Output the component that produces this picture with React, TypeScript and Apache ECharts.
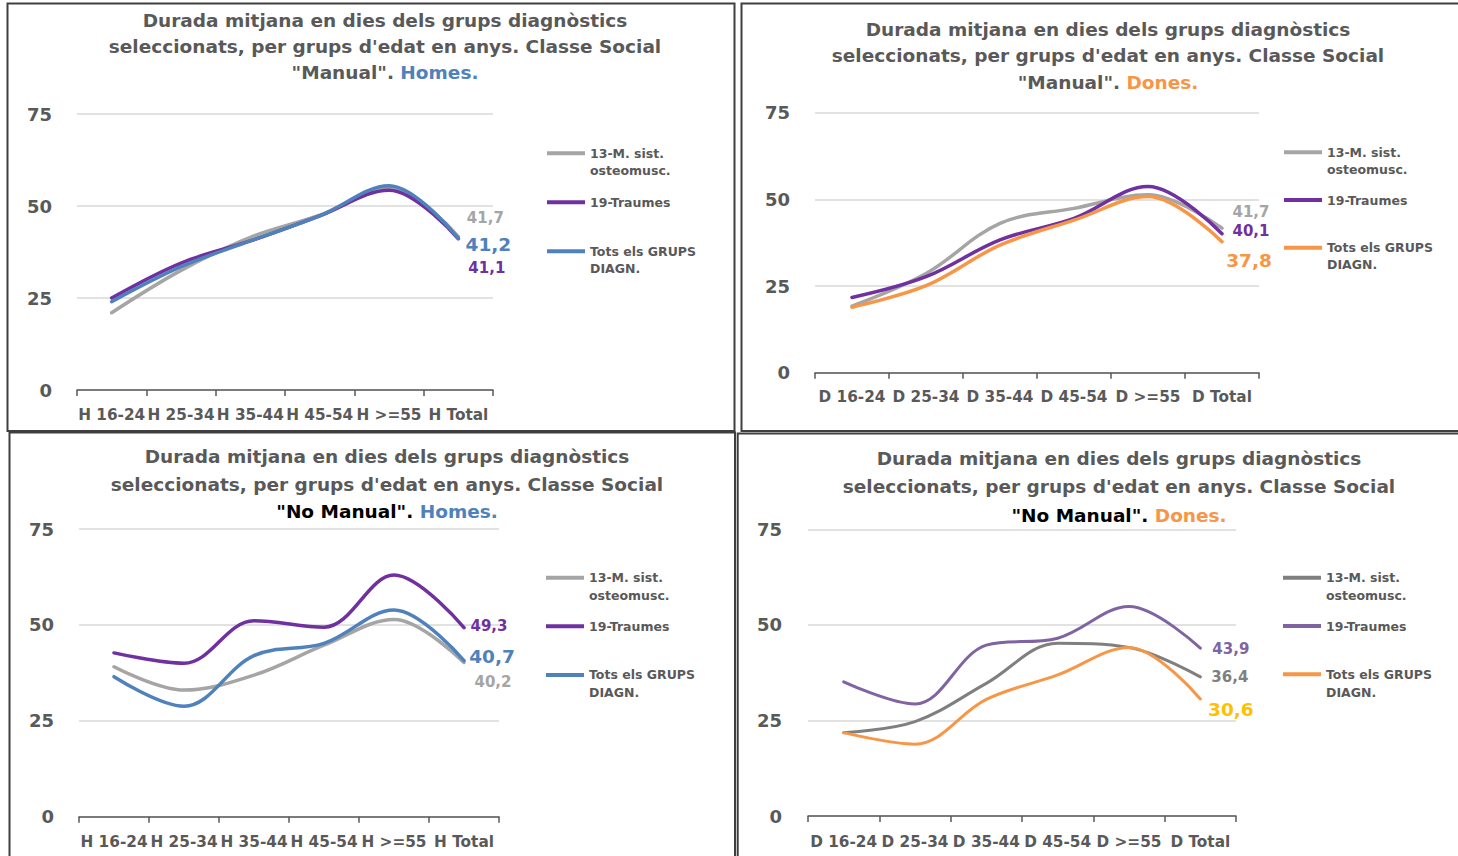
import React, { useEffect, useRef } from "react";
import * as echarts from "echarts";

// ---------- data ----------
const SERIES_NAMES = ["13-M. sist. osteomusc.", "19-Traumes", "Tots els GRUPS DIAGN."];
const LEGEND_LABELS = ["13-M. sist.\nosteomusc.", "19-Traumes", "Tots els GRUPS\nDIAGN."];

const catsHomes = ["H 16-24", "H 25-34", "H 35-44", "H 45-54", "H >=55", "H Total"];
const catsDones = ["D 16-24", "D 25-34", "D 35-44", "D 45-54", "D >=55", "D Total"];

// Manual - Homes
const manHomesOsteo = [21.0, 32.5, 41.5, 47.5, 55.0, 41.7];
const manHomesTraumes = [25.0, 34.5, 40.5, 47.3, 54.3, 41.1];
const manHomesTots = [24.0, 33.5, 40.5, 47.3, 55.5, 41.2];

// Manual - Dones
const manDonesOsteo = [19.2, 28.6, 43.1, 47.4, 51.3, 41.7];
const manDonesTraumes = [21.7, 27.7, 38.3, 44.5, 53.7, 40.1];
const manDonesTots = [18.9, 25.1, 36.8, 44.0, 50.8, 37.8];

// No Manual - Homes
const noManHomesOsteo = [39.1, 33.0, 36.9, 44.7, 51.4, 40.2];
const noManHomesTraumes = [42.7, 40.0, 51.1, 49.4, 63.0, 49.3];
const noManHomesTots = [36.5, 28.8, 42.0, 45.2, 53.9, 40.7];

// No Manual - Dones
const noManDonesOsteo = [21.8, 24.7, 34.7, 45.2, 44.1, 36.4];
const noManDonesTraumes = [35.1, 29.3, 44.7, 46.5, 54.8, 43.9];
const noManDonesTots = [21.8, 18.8, 30.5, 36.9, 44.1, 30.6];

const Y_MIN = 0;
const Y_MAX = 75;
const Y_STEP = 25;

// ---------- styles / layout ----------
const FONT = '"DejaVu Sans", sans-serif';
const GREY_TEXT = "#595959";

type Panel = {
  cats: string[];
  values: number[][];
  colors: string[];
  labelColors: string[];
  labelSizes: number[];
  labelOffsets: number[][];
  lineWidth: number;
  grid: number[]; // left, top, width, height
  xMargin: number;
  yMargin: number;
  title: { x: number; top: number; lh: number; lead: string; leadStyle: string; sex: string; sexStyle: string };
  legend: { left: number; top: number; lh: number; gap: number };
};

const panels: Panel[] = [
  {
    cats: catsHomes,
    values: [manHomesOsteo, manHomesTraumes, manHomesTots],
    colors: ["#A5A5A5", "#7030A0", "#4F81BD"],
    labelColors: ["#A5A5A5", "#7030A0", "#4F81BD"],
    labelSizes: [15, 15, 18.5],
    labelOffsets: [[27, -19], [28.5, 29.5], [30, 6]],
    lineWidth: 3.5,
    grid: [77, 114, 416, 276],
    xMargin: 17,
    yMargin: 25,
    title: { x: 385, top: 7, lh: 26, lead: '"Manual". ', leadStyle: "g", sex: "Homes.", sexStyle: "b" },
    legend: { left: 547, top: 127.8, lh: 17, gap: 15 },
  },
  {
    cats: catsDones,
    values: [manDonesOsteo, manDonesTraumes, manDonesTots],
    colors: ["#A5A5A5", "#7030A0", "#F79646"],
    labelColors: ["#A5A5A5", "#7030A0", "#F79646"],
    labelSizes: [15, 15, 18.5],
    labelOffsets: [[29, -16.4], [29, -2.7], [27, 19]],
    lineWidth: 3.5,
    grid: [815, 112.7, 444, 260],
    xMargin: 17,
    yMargin: 25,
    title: { x: 1108, top: 16, lh: 26.5, lead: '"Manual". ', leadStyle: "g", sex: "Dones.", sexStyle: "o" },
    legend: { left: 1284, top: 126.8, lh: 17, gap: 13.7 },
  },
  {
    cats: catsHomes,
    values: [noManHomesOsteo, noManHomesTraumes, noManHomesTots],
    colors: ["#A5A5A5", "#7030A0", "#4F81BD"],
    labelColors: ["#A5A5A5", "#7030A0", "#4F81BD"],
    labelSizes: [15, 15, 18.5],
    labelOffsets: [[29, 20], [25, -2], [28, -4]],
    lineWidth: 3.5,
    grid: [79, 529, 420, 287.7],
    xMargin: 18,
    yMargin: 25,
    title: { x: 387, top: 443, lh: 27.5, lead: '"No Manual". ', leadStyle: "k", sex: "Homes.", sexStyle: "b" },
    legend: { left: 546, top: 550.7, lh: 18, gap: 12.6 },
  },
  {
    cats: catsDones,
    values: [noManDonesOsteo, noManDonesTraumes, noManDonesTots],
    colors: ["#7F7F7F", "#8064A2", "#F79646"],
    labelColors: ["#7F7F7F", "#8064A2", "#FFC000"],
    labelSizes: [15, 15, 18.5],
    labelOffsets: [[29.5, 0], [30.5, 1], [30.5, 10]],
    lineWidth: 3,
    grid: [808, 529.3, 428, 286.7],
    xMargin: 18,
    yMargin: 26,
    title: { x: 1119, top: 444, lh: 28.5, lead: '"No Manual". ', leadStyle: "k", sex: "Dones.", sexStyle: "o" },
    legend: { left: 1283, top: 550.7, lh: 18, gap: 12.3 },
  },
];

const borders = [
  { x: 7.5, y: 3.5, w: 727, h: 427.5 },
  { x: 741.5, y: 3.5, w: 730, h: 427.5 },
  { x: 9.5, y: 432.5, w: 725.5, h: 440 },
  { x: 737.7, y: 433.5, w: 740, h: 440 },
];

const fmt = (v: number) => v.toFixed(1).replace(".", ",");

function buildOption() {
  const option: any = {
    animation: false,
    backgroundColor: "#ffffff",
    title: [],
    legend: [],
    grid: [],
    xAxis: [],
    yAxis: [],
    series: [],
    graphic: [],
  };

  panels.forEach((p, pi) => {
    const t = p.title;
    const base = { fontFamily: FONT, fontWeight: "bold", fontSize: 18.5, lineHeight: t.lh };
    option.title.push({
      left: t.x,
      top: t.top,
      textAlign: "center",
      padding: 0,
      text:
        "Durada mitjana en dies dels grups diagnòstics\nseleccionats, per grups d'edat en anys. Classe Social\n" +
        `{${t.leadStyle}|${t.lead}}{${t.sexStyle}|${t.sex}}`,
      textStyle: {
        ...base,
        color: GREY_TEXT,
        rich: {
          g: { ...base, color: GREY_TEXT },
          k: { ...base, color: "#000000" },
          b: { ...base, color: "#4F81BD" },
          o: { ...base, color: "#F79646" },
        },
      },
    });

    option.grid.push({
      left: p.grid[0],
      top: p.grid[1],
      width: p.grid[2],
      height: p.grid[3],
      containLabel: false,
      outerBoundsMode: "none",
    });

    option.xAxis.push({
      type: "category",
      gridIndex: pi,
      data: p.cats,
      boundaryGap: true,
      axisLine: { show: true, lineStyle: { color: "#595959", width: 1.5 } },
      axisTick: { show: true, length: 6, lineStyle: { color: "#595959", width: 1.5 } },
      axisLabel: {
        interval: 0,
        margin: p.xMargin,
        color: GREY_TEXT,
        fontFamily: FONT,
        fontWeight: "bold",
        fontSize: 15.3,
      },
      splitLine: { show: false },
    });

    option.yAxis.push({
      type: "value",
      gridIndex: pi,
      min: Y_MIN,
      max: Y_MAX,
      interval: Y_STEP,
      axisLine: { show: false },
      axisTick: { show: false },
      splitLine: { show: true, lineStyle: { color: "#D9D9D9", width: 1.5 } },
      axisLabel: {
        margin: p.yMargin,
        color: GREY_TEXT,
        fontFamily: FONT,
        fontWeight: "bold",
        fontSize: 18,
      },
    });

    const L = p.legend;
    const legendText = {
      fontFamily: FONT,
      fontWeight: "bold",
      fontSize: 12.5,
      color: GREY_TEXT,
      lineHeight: L.lh,
    };
    option.legend.push({
      orient: "vertical",
      left: L.left,
      top: L.top,
      padding: 0,
      itemGap: L.gap,
      itemWidth: 38,
      itemHeight: 4,
      icon: "rect",
      selectedMode: false,
      textStyle: legendText,
      // a blank first line keeps the first text line level with the legend line
      formatter: (name: string) => {
        const label = LEGEND_LABELS[SERIES_NAMES.indexOf(name)];
        return label.includes("\n") ? " \n" + label : label;
      },
      data: SERIES_NAMES.map((n, si) => ({
        name: n,
        itemStyle: { color: p.colors[si] },
      })),
    });

    p.values.forEach((vals, si) => {
      const last = vals.length - 1;
      option.series.push({
        type: "line",
        name: SERIES_NAMES[si],
        xAxisIndex: pi,
        yAxisIndex: pi,
        smooth: 0.36,
        symbol: "circle",
        symbolSize: 0.1,
        showSymbol: true,
        lineStyle: { color: p.colors[si], width: p.lineWidth, cap: "round", join: "round" },
        itemStyle: { color: p.colors[si] },
        z: 2 + si,
        data: vals.map((v, i) =>
          i === last
            ? {
                value: v,
                label: {
                  show: true,
                  position: "inside",
                  offset: p.labelOffsets[si],
                  formatter: fmt(v),
                  color: p.labelColors[si],
                  fontFamily: FONT,
                  fontWeight: "bold",
                  fontSize: p.labelSizes[si],
                },
              }
            : v
        ),
      });
    });
  });

  borders.forEach((b) => {
    option.graphic.push({
      type: "rect",
      silent: true,
      z: 100,
      shape: { x: b.x, y: b.y, width: b.w, height: b.h },
      style: { fill: "none", stroke: "#3F3F3F", lineWidth: 2 },
    });
  });

  return option;
}

export default function App() {
  const ref = useRef<HTMLDivElement>(null);
  useEffect(() => {
    if (!ref.current) return;
    const chart = echarts.init(ref.current, undefined, { renderer: "svg" });
    chart.setOption(buildOption());
    return () => chart.dispose();
  }, []);
  return (
    <div style={{ position: "absolute", left: 0, top: 0, width: 1458, height: 856, background: "#fff" }}>
      <div ref={ref} style={{ width: 1458, height: 856 }} />
    </div>
  );
}
